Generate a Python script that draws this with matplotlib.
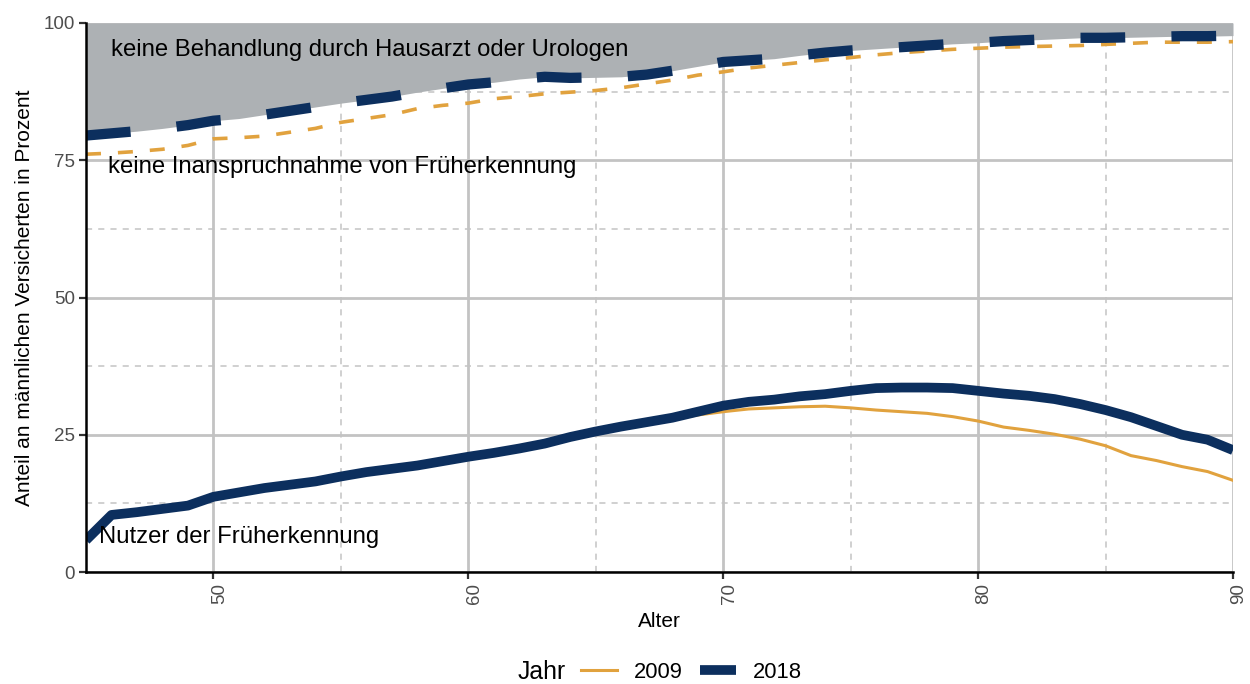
import matplotlib
matplotlib.use("Agg")
import matplotlib.pyplot as plt
import matplotlib.transforms as mtransforms
from matplotlib.lines import Line2D

plt.rcParams['font.family'] = ['Liberation Sans', 'DejaVu Sans']

alter = list(range(45, 91))

# Nutzer der Frueherkennung
nutzer_2009 = [5.8, 10.4, 10.9, 11.5, 12.1, 13.7, 14.5, 15.3, 15.9, 16.5,
               17.4, 18.2, 18.8, 19.4, 20.2, 21.0, 22.0, 22.9, 23.7, 24.7,
               25.6, 26.5, 27.3, 27.9, 28.6, 29.2, 29.7, 29.9, 30.1, 30.2,
               29.9, 29.5, 29.2, 28.9, 28.3, 27.5, 26.4, 25.8, 25.1, 24.2,
               23.0, 21.2, 20.3, 19.2, 18.3, 16.7]
nutzer_2018 = [5.8, 10.4, 10.9, 11.5, 12.1, 13.7, 14.5, 15.3, 15.9, 16.5,
               17.4, 18.2, 18.8, 19.4, 20.2, 21.0, 21.7, 22.5, 23.4, 24.6,
               25.6, 26.5, 27.3, 28.1, 29.2, 30.3, 31.0, 31.4, 32.0, 32.4,
               33.0, 33.5, 33.6, 33.6, 33.5, 33.0, 32.5, 32.1, 31.5, 30.6,
               29.5, 28.2, 26.6, 25.0, 24.1, 22.2]

# Grenze: Behandlung durch Hausarzt oder Urologen
behandlung_2009 = [76.1, 76.3, 76.6, 77.0, 77.7, 78.9, 79.1, 79.4, 80.1, 80.8,
                   81.9, 82.6, 83.3, 84.4, 85.0, 85.4, 86.2, 86.6, 87.1, 87.4,
                   87.7, 88.2, 88.9, 89.6, 90.5, 91.1, 91.8, 92.3, 92.8, 93.3,
                   93.7, 94.2, 94.6, 94.9, 95.2, 95.4, 95.6, 95.7, 95.8, 95.9,
                   96.1, 96.3, 96.5, 96.5, 96.5, 96.6]
behandlung_2018 = [79.5, 79.9, 80.3, 80.8, 81.4, 82.2, 82.6, 83.3, 84.0, 84.7,
                   85.4, 86.0, 86.6, 87.4, 88.1, 88.8, 89.2, 89.8, 90.2, 90.0,
                   90.1, 90.2, 90.6, 91.3, 92.1, 92.9, 93.2, 93.5, 94.1, 94.6,
                   95.0, 95.3, 95.6, 95.9, 96.2, 96.4, 96.7, 96.9, 97.1, 97.3,
                   97.3, 97.4, 97.5, 97.6, 97.6, 97.7]

jahre = ['2009', '2018']
c09 = '#E1A23E'
c18 = '#0C2F5E'
grau = '#ADB1B4'
grid_c = '#C3C3C3'

fig = plt.figure(figsize=(12.5, 6.84), dpi=100)
ax = fig.add_axes([0.0688, 0.1637, 0.9176, 0.8027])

ax.fill_between(alter, behandlung_2018, 100, color=grau, lw=0, zorder=2)

ax.plot(alter, nutzer_2009, color=c09, lw=2.2, zorder=3, solid_joinstyle='round')
ax.plot(alter, behandlung_2009, color=c09, lw=2.6, dashes=(4.15, 4.7),
        dash_capstyle='butt', zorder=3)
ax.plot(alter, nutzer_2018, color=c18, lw=7.0, zorder=4, solid_joinstyle='round',
        solid_capstyle='butt')
ax.plot(alter, behandlung_2018, color=c18, lw=7.4, dashes=(4.35, 4.5),
        dash_capstyle='butt', zorder=4)

txt = dict(fontsize=17.2, color='black', ha='left', va='center', zorder=5)
ax.text(46.0, 95.0, 'keine Behandlung durch Hausarzt oder Urologen', **txt)
ax.text(45.85, 73.8, 'keine Inanspruchnahme von Früherkennung', **txt)
ax.text(45.5, 6.4, 'Nutzer der Früherkennung', **txt)

ax.set_xlim(45, 90)
ax.set_ylim(0, 100)
ax.set_xticks([50, 60, 70, 80, 90])
ax.set_xticks([55, 65, 75, 85], minor=True)
ax.set_yticks([0, 25, 50, 75, 100])
ax.set_yticks([12.5, 37.5, 62.5, 87.5], minor=True)
ax.grid(which='major', color=grid_c, lw=2.0, zorder=1)
ax.grid(which='minor', color=grid_c, lw=1.1, linestyle=(0, (4, 4)), zorder=1)
ax.set_axisbelow(True)
ax.tick_params(which='minor', length=0)
ax.tick_params(which='major', length=5, width=1.6, color='#333333',
               labelsize=13.5, labelcolor='#4D4D4D', pad=3)
ax.tick_params(axis='x', labelrotation=90)

# x labels sit a little right of their ticks, as in the original
shift = mtransforms.ScaledTranslation(0.06, 0, fig.dpi_scale_trans)
for lab in ax.get_xticklabels():
    lab.set_transform(lab.get_transform() + shift)

for s in ['top', 'right']:
    ax.spines[s].set_visible(False)
for s in ['left', 'bottom']:
    ax.spines[s].set_linewidth(1.8)
    ax.spines[s].set_color('black')
    ax.spines[s].set_zorder(6)

ax.set_xlabel('Alter', fontsize=15, labelpad=6)
ax.set_ylabel('Anteil an männlichen Versicherten in Prozent', fontsize=15, labelpad=7)

handles = [Line2D([], [], color=c09, lw=2.2),
           Line2D([], [], color=c18, lw=7.0, solid_capstyle='butt')]
fig.text(0.4144, 0.0175, 'Jahr', fontsize=17.8, ha='left', va='center')
fig.legend(handles, jahre, ncol=2, frameon=False, loc='center left',
           bbox_to_anchor=(0.4648, 0.0175), fontsize=15.8, handlelength=1.64,
           handletextpad=0.77, columnspacing=0.77, borderpad=0, borderaxespad=0)

fig.savefig('out.png', dpi=100)
